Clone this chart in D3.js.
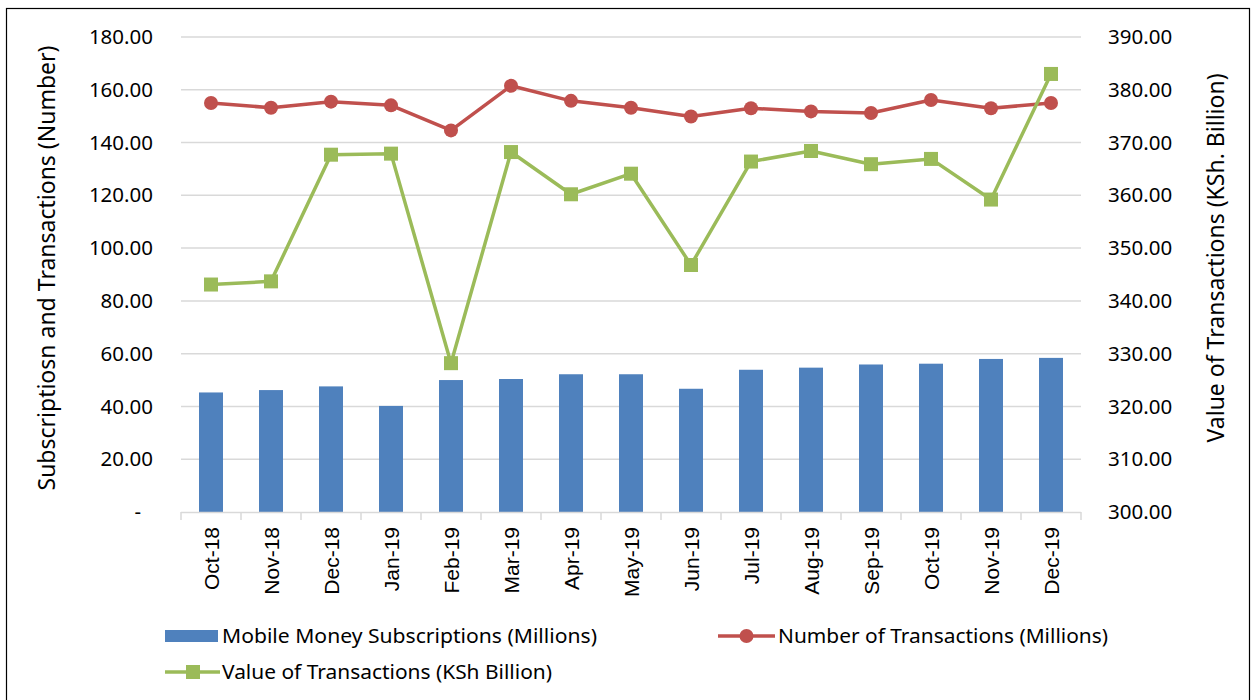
<!DOCTYPE html>
<html><head><meta charset="utf-8">
<script src="https://cdn.jsdelivr.net/npm/d3@7"></script>
<style>body{margin:0;background:#fff}svg{display:block;font-family:"Noto Sans",sans-serif}</style>
</head><body>
<svg id="c" width="1252" height="700"></svg>
<script>
const categories = ["Oct-18","Nov-18","Dec-18","Jan-19","Feb-19","Mar-19","Apr-19","May-19","Jun-19","Jul-19","Aug-19","Sep-19","Oct-19","Nov-19","Dec-19"];
const subscriptions = [45.3,46.2,47.6,40.2,50.0,50.4,52.2,52.2,46.7,53.9,54.7,55.9,56.2,58.0,58.4];
const numTransactions = [155.0,153.2,155.5,154.1,144.6,161.5,155.8,153.2,149.9,153.0,151.8,151.2,156.1,153.0,155.0];
const valueTransactions = [343.1,343.7,367.7,367.9,328.2,368.2,360.2,364.1,346.8,366.4,368.4,365.9,366.9,359.2,383.0];
const leftTicks = [0,20,40,60,80,100,120,140,160,180];
const rightTicks = [300,310,320,330,340,350,360,370,380,390];

const svg = d3.select("#c");
const m = {l:181, r:1081, t:37, b:512};
svg.append("rect").attr("x",6.5).attr("y",8.5).attr("width",1243).attr("height",700).attr("fill","none").attr("stroke","#000").attr("stroke-width",1.2);

const x = d3.scaleBand().domain(categories).range([m.l,m.r]).paddingInner(0.6).paddingOuter(0.3);
const yL = d3.scaleLinear().domain([0,180]).range([m.b,m.t]);
const yR = d3.scaleLinear().domain([300,390]).range([m.b,m.t]);
const cx = d => x(d)+x.bandwidth()/2;

// gridlines
svg.append("g").selectAll("line").data(leftTicks.slice(1)).join("line")
  .attr("x1",m.l).attr("x2",m.r).attr("y1",d=>yL(d)).attr("y2",d=>yL(d))
  .attr("stroke","#D9D9D9").attr("stroke-width",1.5);

// left axis
const gl = svg.append("g").attr("transform",`translate(${m.l},0)`)
  .call(d3.axisLeft(yL).tickValues(leftTicks).tickSize(0).tickPadding(28).tickFormat(d=>d===0?"-":d3.format(".2f")(d)));
gl.select(".domain").remove();
gl.selectAll("text").attr("font-size",20.5).attr("fill","#000").attr("font-family","Noto Sans");
gl.selectAll(".tick").filter(d=>d===0).select("text").attr("dx",-12);

// right axis
const gr = svg.append("g").attr("transform",`translate(${m.r},0)`)
  .call(d3.axisRight(yR).tickValues(rightTicks).tickSize(0).tickPadding(27).tickFormat(d3.format(".2f")));
gr.select(".domain").remove();
gr.selectAll("text").attr("font-size",20.5).attr("fill","#000").attr("font-family","Noto Sans");

// bars
svg.append("g").selectAll("rect").data(categories).join("rect")
  .attr("x",d=>x(d)).attr("width",x.bandwidth())
  .attr("y",(d,i)=>yL(subscriptions[i])).attr("height",(d,i)=>m.b-yL(subscriptions[i]))
  .attr("fill","#4F81BD");

// bottom axis
const bounds = d3.range(categories.length+1).map(i=>m.l+i*(m.r-m.l)/categories.length);
svg.append("line").attr("x1",m.l).attr("x2",m.r).attr("y1",m.b+0.5).attr("y2",m.b+0.5).attr("stroke","#D9D9D9").attr("stroke-width",1.5);
svg.append("g").selectAll("line").data(bounds).join("line")
  .attr("x1",d=>d).attr("x2",d=>d).attr("y1",m.b).attr("y2",m.b+8).attr("stroke","#D9D9D9").attr("stroke-width",1.5);
svg.append("g").selectAll("text").data(categories).join("text")
  .attr("transform",d=>`translate(${cx(d)+8},${m.b+15}) rotate(-90)`)
  .attr("text-anchor","end").attr("font-size",21).attr("font-family","Liberation Sans").text(d=>d);

// lines
const lineN = d3.line().x((d,i)=>cx(categories[i])).y(d=>yL(d));
svg.append("path").datum(numTransactions).attr("d",lineN).attr("fill","none").attr("stroke","#C0504D").attr("stroke-width",3.5).attr("stroke-linejoin","round");
svg.append("g").selectAll("circle").data(numTransactions).join("circle")
  .attr("cx",(d,i)=>cx(categories[i])).attr("cy",d=>yL(d)).attr("r",7).attr("fill","#C0504D");

const lineV = d3.line().x((d,i)=>cx(categories[i])).y(d=>yR(d));
svg.append("path").datum(valueTransactions).attr("d",lineV).attr("fill","none").attr("stroke","#9BBB59").attr("stroke-width",3.5).attr("stroke-linejoin","round");
svg.append("g").selectAll("rect").data(valueTransactions).join("rect")
  .attr("x",(d,i)=>cx(categories[i])-7).attr("y",d=>yR(d)-7).attr("width",14).attr("height",14).attr("fill","#9BBB59");

// axis titles
svg.append("text").attr("transform","translate(55,268) rotate(-90)").attr("text-anchor","middle").attr("font-size",23)
  .text("Subscriptiosn and Transactions (Number)");
svg.append("text").attr("transform","translate(1224,258) rotate(-90)").attr("text-anchor","middle").attr("font-size",23)
  .text("Value of Transactions (KSh. Billion)");

// legend
const lg = svg.append("g").attr("font-size",19);
lg.append("rect").attr("x",165).attr("y",630).attr("width",53).attr("height",12).attr("fill","#4F81BD");
lg.append("text").attr("x",222).attr("y",643).attr("textLength",375).attr("lengthAdjust","spacingAndGlyphs").text("Mobile Money Subscriptions (Millions)");
lg.append("line").attr("x1",718).attr("x2",775).attr("y1",636).attr("y2",636).attr("stroke","#C0504D").attr("stroke-width",3.5);
lg.append("circle").attr("cx",746.5).attr("cy",636).attr("r",7).attr("fill","#C0504D");
lg.append("text").attr("x",778).attr("y",643).attr("textLength",330).attr("lengthAdjust","spacingAndGlyphs").text("Number of Transactions (Millions)");
lg.append("line").attr("x1",165).attr("x2",220).attr("y1",672).attr("y2",672).attr("stroke","#9BBB59").attr("stroke-width",3.5);
lg.append("rect").attr("x",186).attr("y",665).attr("width",14).attr("height",14).attr("fill","#9BBB59");
lg.append("text").attr("x",222).attr("y",679).attr("textLength",330).attr("lengthAdjust","spacingAndGlyphs").text("Value of Transactions (KSh Billion)");
</script>
</body></html>
